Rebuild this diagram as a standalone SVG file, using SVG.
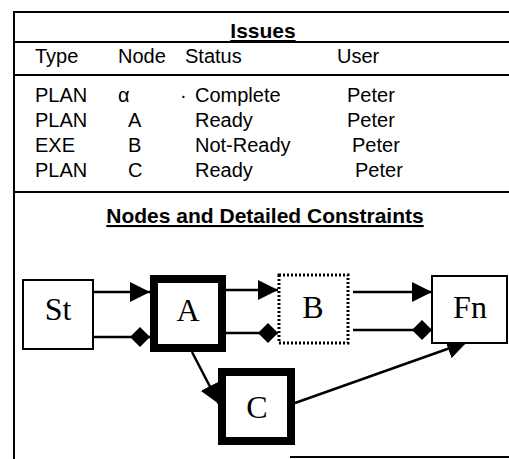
<svg xmlns="http://www.w3.org/2000/svg" width="509" height="459" viewBox="0 0 509 459">
<style>
.t{font-family:"Liberation Sans",Arial,Helvetica,sans-serif;font-size:20px;fill:#000}
.h{font-family:"Liberation Sans",Arial,Helvetica,sans-serif;font-size:21px;font-weight:bold;text-decoration:underline;text-anchor:middle;fill:#000}
.n{font-family:"Liberation Serif","Times New Roman",serif;font-size:32px;text-anchor:middle;fill:#000}
.rule{stroke:#000;stroke-width:2;fill:none}
.thin{fill:#fff;stroke:#000;stroke-width:2}
.thick{fill:#fff;stroke:#000;stroke-width:8}
.dotted{fill:#fff;stroke:#000;stroke-width:3;stroke-dasharray:2 2}
.c{stroke:#000;stroke-width:2.5;fill:none}
</style>
<defs>
<marker id="arr" markerUnits="userSpaceOnUse" viewBox="0 0 20 20" markerWidth="20" markerHeight="20" refX="20" refY="10" orient="auto">
<path d="M0,0 L20,10 L0,20 z" fill="#000"/>
</marker>
<marker id="dia" markerUnits="userSpaceOnUse" viewBox="0 0 20 20" markerWidth="20" markerHeight="20" refX="20" refY="10" orient="auto">
<path d="M0,10 L10,0 L20,10 L10,20 z" fill="#000"/>
</marker>
</defs>
<rect width="509" height="459" fill="#fff"/>
<g id="frame">
<path class="rule" d="M14,12 H509 M14,42 H509 M14,75 H509 M290,457 H509"/>
<path class="rule" stroke-width="3" d="M14,192 H509 M14,11 V459"/>
</g>
<g id="issues-table">
<text class="h" x="263" y="38">Issues</text>
<text class="t" x="35" y="63">Type</text>
<text class="t" x="118" y="63">Node</text>
<text class="t" x="185" y="63">Status</text>
<text class="t" x="337" y="63">User</text>
<text class="t" x="35" y="102">PLAN</text>
<text class="t" x="118" y="102">α</text>
<text class="t" x="180" y="102">·</text>
<text class="t" x="195" y="102">Complete</text>
<text class="t" x="347" y="102">Peter</text>
<text class="t" x="35" y="127">PLAN</text>
<text class="t" x="128" y="127">A</text>
<text class="t" x="195" y="127">Ready</text>
<text class="t" x="347" y="127">Peter</text>
<text class="t" x="35" y="152">EXE</text>
<text class="t" x="128" y="152">B</text>
<text class="t" x="195" y="152">Not-Ready</text>
<text class="t" x="352" y="152">Peter</text>
<text class="t" x="35" y="177">PLAN</text>
<text class="t" x="128" y="177">C</text>
<text class="t" x="195" y="177">Ready</text>
<text class="t" x="355" y="177">Peter</text>
<text class="h" x="265" y="223">Nodes and Detailed Constraints</text>
</g>
<g id="connectors">
<path class="c" d="M93,292 H150" marker-end="url(#arr)"/>
<path class="c" d="M93,337 H150" marker-end="url(#dia)"/>
<path class="c" d="M226,290 H278" marker-end="url(#arr)"/>
<path class="c" d="M226,333 H278" marker-end="url(#dia)"/>
<path class="c" d="M353,292 H432" marker-end="url(#arr)"/>
<path class="c" d="M353,330 H432" marker-end="url(#dia)"/>
<path class="c" d="M192,352 L219,404" marker-end="url(#arr)"/>
<path class="c" d="M295,403 L467,342" marker-end="url(#arr)"/>
</g>
<g id="node-St">
<rect class="thin" x="23" y="280" width="70" height="69"/>
<text class="n" x="58" y="320">St</text>
</g>
<g id="node-A">
<rect class="thick" x="154" y="279" width="68" height="69"/>
<text class="n" x="188" y="321">A</text>
</g>
<g id="node-B">
<rect class="dotted" x="279" y="275" width="69" height="68"/>
<text class="n" x="313" y="318">B</text>
</g>
<g id="node-Fn">
<rect class="thin" x="432" y="276" width="75" height="67"/>
<text class="n" x="470" y="318">Fn</text>
</g>
<g id="node-C">
<rect class="thick" x="222" y="372" width="69" height="69"/>
<text class="n" x="257" y="418">C</text>
</g>
</svg>
